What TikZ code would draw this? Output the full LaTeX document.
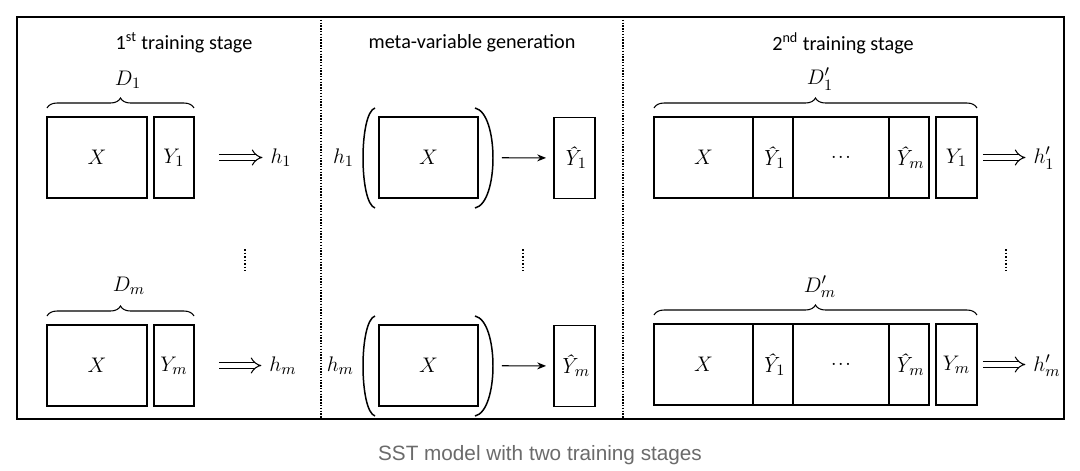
\documentclass[tikz,border=0pt]{standalone}
\usepackage{amsmath}
\usepackage{fontspec}
\newfontfamily\stagefont{Carlito}
\newfontfamily\capfont{Liberation Sans}
\usetikzlibrary{positioning,decorations.pathreplacing,arrows,arrows.meta}
\definecolor{capgray}{HTML}{6B6B6B}
\newcommand{\yhat}{\text{\itshape Ŷ}}

\begin{document}
\begin{tikzpicture}[x=0.02cm,y=-0.02cm]
    \tikzstyle{cell}=[draw,line width=0.75pt,inner sep=0pt,outer sep=0pt,minimum height=1.62cm,font=\fontsize{12.5}{14}\selectfont]
    \tikzstyle{lbl}=[inner sep=1pt,font=\fontsize{12.5}{14}\selectfont]
    \tikzstyle{stagetitle}=[font=\stagefont\fontsize{11.5}{13}\selectfont]
    \tikzstyle{dbl}=[double,double distance=2.6pt,line width=0.6pt,-implies]
    \tikzstyle{grp}=[decorate,decoration={brace,amplitude=0.2cm},line width=0.6pt]
    \tikzstyle{paren}=[line width=0.85pt]
    \tikzstyle{sep}=[line width=0.8pt,dash pattern=on 0.8pt off 0.8pt]
    \tikzstyle{more}=[line width=1pt,dash pattern=on 1pt off 1pt]

    \fill[white] (0,0) rectangle (1080,462);
    \draw[line width=0.85pt] (17,17) rectangle (1064,419);
    \draw[sep] (321,17) -- (321,419);
    \draw[sep] (623,17) -- (623,419);

    % 1st training stage
    \node[stagetitle] (title1) at (184,43) {1\textsuperscript{st} training stage};
    \node[cell,minimum width=2cm] (x1) at (97,157.5) {$X$};
    \node[cell,minimum width=0.8cm,right=0.14cm of x1] (y1) {$Y_1$};
    \node[lbl] (h1) at (281,158) {$h_1$};
    \draw[grp] ([yshift=0.18cm]x1.north west) -- ([yshift=0.18cm]y1.north east);
    \node[lbl] (d1) at (128,80) {$D_1$};
    \draw[dbl,shorten <=0.5cm,shorten >=0.12cm] (y1.east) -- (y1.east -| h1.west);

    \node[cell,minimum width=2cm] (xm) at (97,365.5) {$X$};
    \node[cell,minimum width=0.8cm,right=0.14cm of xm] (ym) {$Y_m$};
    \node[lbl] (hm) at (283,366) {$h_m$};
    \draw[grp] ([yshift=0.18cm]xm.north west) -- ([yshift=0.18cm]ym.north east);
    \node[lbl] (dm) at (129,286) {$D_m$};
    \draw[dbl,shorten <=0.5cm,shorten >=0.12cm] (ym.east) -- (ym.east -| hm.west);
    \draw[more] (245,249) -- (245,271);

    % meta-variable generation
    \node[stagetitle] (title2) at (472,43) {meta-variable generation};
    \node[cell,minimum width=1.98cm] (gx1) at (428.5,157.5) {$X$};
    \node[lbl,left=0.46cm of gx1] (gh1) {$h_1$};
    \node[cell,minimum width=0.82cm] (gy1) at (574.5,158) {$\yhat_1$};
    \draw[paren] (375,108) .. controls (359,113) and (359,203) .. (375,208);
    \draw[paren] (475,108) .. controls (499,113) and (499,203) .. (475,208);
    \draw[-{Stealth[length=5pt,width=4pt]},line width=0.6pt,shorten <=0.48cm,shorten >=0.16cm] (gx1) -- (gy1);

    \node[cell,minimum width=1.98cm] (gxm) at (428.5,365.5) {$X$};
    \node[lbl,left=0.46cm of gxm] (ghm) {$h_m$};
    \node[cell,minimum width=0.82cm] (gym) at (574.5,366) {$\yhat_m$};
    \draw[paren] (375,316) .. controls (359,321) and (359,411) .. (375,416);
    \draw[paren] (475,316) .. controls (499,321) and (499,411) .. (475,416);
    \draw[-{Stealth[length=5pt,width=4pt]},line width=0.6pt,shorten <=0.48cm,shorten >=0.16cm] (gxm) -- (gym);
    \draw[more] (523,249) -- (523,271);

    % 2nd training stage
    \node[stagetitle] (title3) at (843,43) {2\textsuperscript{nd} training stage};
    \node[cell,minimum width=1.98cm] (tx1) at (703.5,157.5) {$X$};
    \node[cell,minimum width=0.8cm,right=0pt of tx1] (ta1) {$\yhat_1$};
    \node[cell,minimum width=1.92cm,right=0pt of ta1] (td1) {.\kern0.6pt.\kern0.6pt.};
    \node[cell,minimum width=0.8cm,right=0pt of td1] (tb1) {$\yhat_m$};
    \node[cell,minimum width=0.82cm,right=0.14cm of tb1] (ty1) {$Y_1$};
    \node[lbl] (th1) at (1044,158) {$h'_1$};
    \draw[grp] ([yshift=0.18cm]tx1.north west) -- ([yshift=0.18cm]ty1.north east);
    \node[lbl] (td1lbl) at (820,79) {$D'_1$};
    \draw[dbl,shorten <=0.12cm,shorten >=0.12cm] (ty1.east) -- (ty1.east -| th1.west);

    \node[cell,minimum width=1.98cm] (txm) at (703.5,364.5) {$X$};
    \node[cell,minimum width=0.8cm,right=0pt of txm] (tam) {$\yhat_1$};
    \node[cell,minimum width=1.92cm,right=0pt of tam] (tdm) {.\kern0.6pt.\kern0.6pt.};
    \node[cell,minimum width=0.8cm,right=0pt of tdm] (tbm) {$\yhat_m$};
    \node[cell,minimum width=0.82cm,right=0.14cm of tbm] (tym) {$Y_m$};
    \node[lbl] (thm) at (1047,366) {$h'_m$};
    \draw[grp] ([yshift=0.18cm]txm.north west) -- ([yshift=0.18cm]tym.north east);
    \node[lbl] (tdmlbl) at (820,287) {$D'_m$};
    \draw[dbl,shorten <=0.12cm,shorten >=0.12cm] (tym.east) -- (tym.east -| thm.west);
    \draw[more] (1006,249) -- (1006,271);

    \node[anchor=base,text=capgray,font=\capfont\fontsize{11.8}{14}\selectfont] (caption) at (540,460) {SST model with two training stages};
\end{tikzpicture}
\end{document}
